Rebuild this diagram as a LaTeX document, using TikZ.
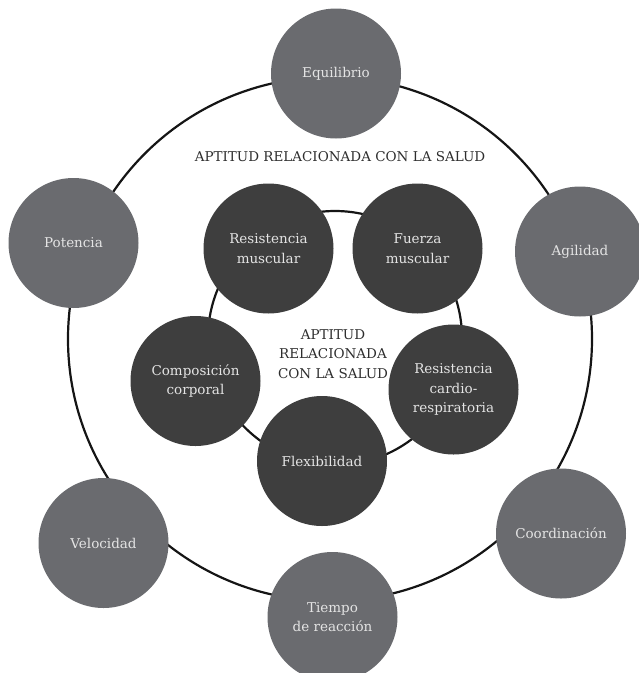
\documentclass[tikz,border=0pt]{standalone}
\usepackage{fontspec}
\setmainfont{DejaVu Serif}
\definecolor{aptInk}{HTML}{151515}
\definecolor{aptGray}{HTML}{6A6B6F}
\definecolor{aptDark}{HTML}{3E3E3E}
\definecolor{aptText}{HTML}{E4E4E4}
\definecolor{aptLabel}{HTML}{2E2E2E}
\tikzset{
  apt ring/.style={draw=aptInk, line width=2.2pt},
  apt outer/.style={circle, fill=aptGray, minimum size=130pt, inner sep=0pt, align=center, text=aptText, font=\fontsize{13.5}{19.5}\selectfont},
  apt inner/.style={apt outer, fill=aptDark},
  apt label/.style={align=center, text=aptLabel, font=\fontsize{13.5}{19.5}\selectfont},
}
\begin{document}
\begin{tikzpicture}[x=1pt,y=-1pt]
\useasboundingbox(0,0)rectangle(639,673);
\coordinate(outer hub)at(330,339);\coordinate(inner hub)at(335,338);
\draw[apt ring](outer hub)circle[radius=262pt];
\draw[apt ring](inner hub)circle[radius=127pt];
% outer ring
\node[apt outer](equil)at(336,73.5){Equilibrio};
\node[apt outer](agil)at(580,251.5){Agilidad};
\node[apt outer](coord)at(561,533.5){Coordinación};
\node[apt outer](tiempo)at(332.5,617){Tiempo\\de reacción};
\node[apt outer](veloc)at(103.5,543){Velocidad};
\node[apt outer](poten)at(73.5,243){Potencia};
\node[apt label](outer title)at(340,157){APTITUD RELACIONADA CON LA SALUD};
% inner ring
\node[apt inner](resmus)at(268.5,248.5){Resistencia\\muscular};
\node[apt inner](fuerza)at(417.5,248.5){Fuerza\\muscular};
\node[apt inner](cardio)at(453.5,389.5){Resistencia\\cardio-\\respiratoria};
\node[apt inner](flex)at(322,461){Flexibilidad};
\node[apt inner](compo)at(195.5,381){Composición\\corporal};
\node[apt label](inner title)at(333,354){APTITUD\\RELACIONADA\\CON LA SALUD};
\end{tikzpicture}
\end{document}
